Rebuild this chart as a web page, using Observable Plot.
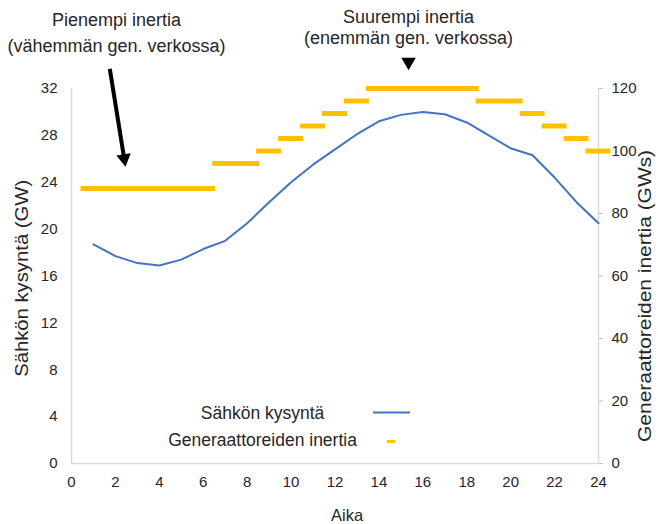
<!DOCTYPE html>
<html>
<head>
<meta charset="utf-8">
<script src="https://cdn.jsdelivr.net/npm/d3@7"></script>
<script src="https://cdn.jsdelivr.net/npm/@observablehq/plot@0.6"></script>
<style>
  html, body { margin: 0; padding: 0; background: white; }
</style>
</head>
<body>
<div id="chart"></div>
<script>
// ---- data ----
const hours = [1,2,3,4,5,6,7,8,9,10,11,12,13,14,15,16,17,18,19,20,21,22,23,24];
const demand = [18.7,17.7,17.1,16.9,17.4,18.3,19.0,20.5,22.3,24.0,25.5,26.8,28.1,29.2,29.75,30.0,29.8,29.1,28.0,26.9,26.3,24.4,22.3,20.5];

const inertiaStart = [0.5,6.5,8.5,9.5,10.5,11.5,12.5,13.5,18.5,20.5,21.5,22.5,23.5];
const inertiaEnd   = [6.5,8.5,9.5,10.5,11.5,12.5,13.5,18.5,20.5,21.5,22.5,23.5,24.5];
const inertiaValue = [88,96,100,104,108,112,116,120,116,112,108,104,100];

const xTicks = [0,2,4,6,8,10,12,14,16,18,20,22,24];
const leftTicks = [0,4,8,12,16,20,24,28,32];
const rightTicks = [0,20,40,60,80,100,120];

const seriesNames = ["Sähkön kysyntä", "Generaattoreiden inertia"];
const xLabel = "Aika";
const yLeftLabel = "Sähkön kysyntä (GW)";
const yRightLabel = "Generaattoreiden inertia (GWs)";
const noteLow = ["Pienempi inertia", "(vähemmän gen. verkossa)"];
const noteHigh = ["Suurempi inertia", "(enemmän gen. verkossa)"];

// ---- build tables ----
const k = 32 / 120; // right axis (GWs) -> left axis (GW) units
const demandData = hours.map((h, i) => ({h, v: demand[i]}));
const inertiaData = inertiaValue.map((v, i) => ({s: inertiaStart[i], e: inertiaEnd[i], v}));

const blue = "#4472C4";
const gold = "#FFC000";
const ink = "#262626";
const axisGray = "#d9d9d9";

const chart = Plot.plot({
  width: 658,
  height: 524,
  marginLeft: 71,
  marginRight: 60,
  marginTop: 88,
  marginBottom: 61,
  x: {domain: [0, 24]},
  y: {domain: [0, 32]},
  style: {fontFamily: "'Liberation Sans', Arial, sans-serif", fontSize: "15px", color: ink, background: "white"},
  marks: [
    // axis lines
    Plot.ruleX([0], {stroke: axisGray, strokeWidth: 1.5}),
    Plot.ruleX([24], {stroke: axisGray, strokeWidth: 1.5}),
    Plot.ruleY([0], {stroke: axisGray, strokeWidth: 1.5}),
    // axes
    Plot.axisY({ticks: leftTicks, tickSize: 0, tickPadding: 14, label: null, fontSize: 15, fill: ink}),
    Plot.axisY({anchor: "right", ticks: rightTicks.map(v => v * k), tickFormat: d => String(Math.round(d / k)),
      tickSize: 4, tickPadding: 9, stroke: "#bfbfbf", label: null, fontSize: 15, fill: ink}),
    Plot.axisX({ticks: xTicks, tickSize: 0, tickPadding: 13, label: null, fontSize: 15, fill: ink}),
    // inertia steps
    Plot.ruleY(inertiaData, {x1: "s", x2: "e", y: d => d.v * k, stroke: gold, strokeWidth: 5, insetLeft: -1.5, insetRight: -1.5}),
    // demand line
    Plot.line(demandData, {x: "h", y: "v", stroke: blue, strokeWidth: 2}),
    // legend
    Plot.text([seriesNames[0]], {x: 8.7, y: 4.27, text: d => d, fontSize: 17.5, fill: ink}),
    Plot.text([seriesNames[1]], {x: 8.7, y: 1.96, text: d => d, fontSize: 17.5, fill: ink}),
    Plot.ruleY([4.35], {x1: 13.75, x2: 15.44, stroke: blue, strokeWidth: 2}),
    Plot.ruleY([1.88], {x1: 14.39, x2: 14.75, stroke: gold, strokeWidth: 3}),
    // axis titles
    Plot.text([yLeftLabel], {x: -2.28, y: 15.8, text: d => d, rotate: -90, fontSize: 19, fill: ink, className: "ttl-left"}),
    Plot.text([yRightLabel], {x: 26.1, y: 14.3, text: d => d, rotate: -90, fontSize: 19, fill: ink, className: "ttl-right"}),
    Plot.text([xLabel], {x: 12.55, y: -4.44, text: d => d, fontSize: 16.5, fill: ink}),
    // annotations
    Plot.text([noteLow[0]], {x: 2.05, y: 37.8, text: d => d, fontSize: 18, fill: ink}),
    Plot.text([noteLow[1]], {x: 2.05, y: 35.58, text: d => d, fontSize: 18, fill: ink}),
    Plot.text([noteHigh[0]], {x: 15.35, y: 38.05, text: d => d, fontSize: 18, fill: ink}),
    Plot.text([noteHigh[1]], {x: 15.35, y: 36.26, text: d => d, fontSize: 18, fill: ink}),
    Plot.link([0], {x1: 1.744, y1: 33.68, x2: 2.40, y2: 26.02, stroke: "black", strokeWidth: 4}),
    Plot.dot([0], {x: 2.40, y: 26.02, symbol: "triangle", r: 5.4, rotate: 170.9, fill: "black", stroke: "none"}),
    Plot.dot([0], {x: 15.35, y: 34.27, symbol: "triangle", r: 5.4, rotate: 180, fill: "black", stroke: "none"})
  ]
});
// stretch rotated axis titles to the reference's length
d3.select(chart).selectAll(".ttl-left text").attr("textLength", 197).attr("lengthAdjust", "spacingAndGlyphs");
d3.select(chart).selectAll(".ttl-right text").attr("textLength", 292).attr("lengthAdjust", "spacingAndGlyphs");
document.getElementById("chart").appendChild(chart);
</script>
</body>
</html>
